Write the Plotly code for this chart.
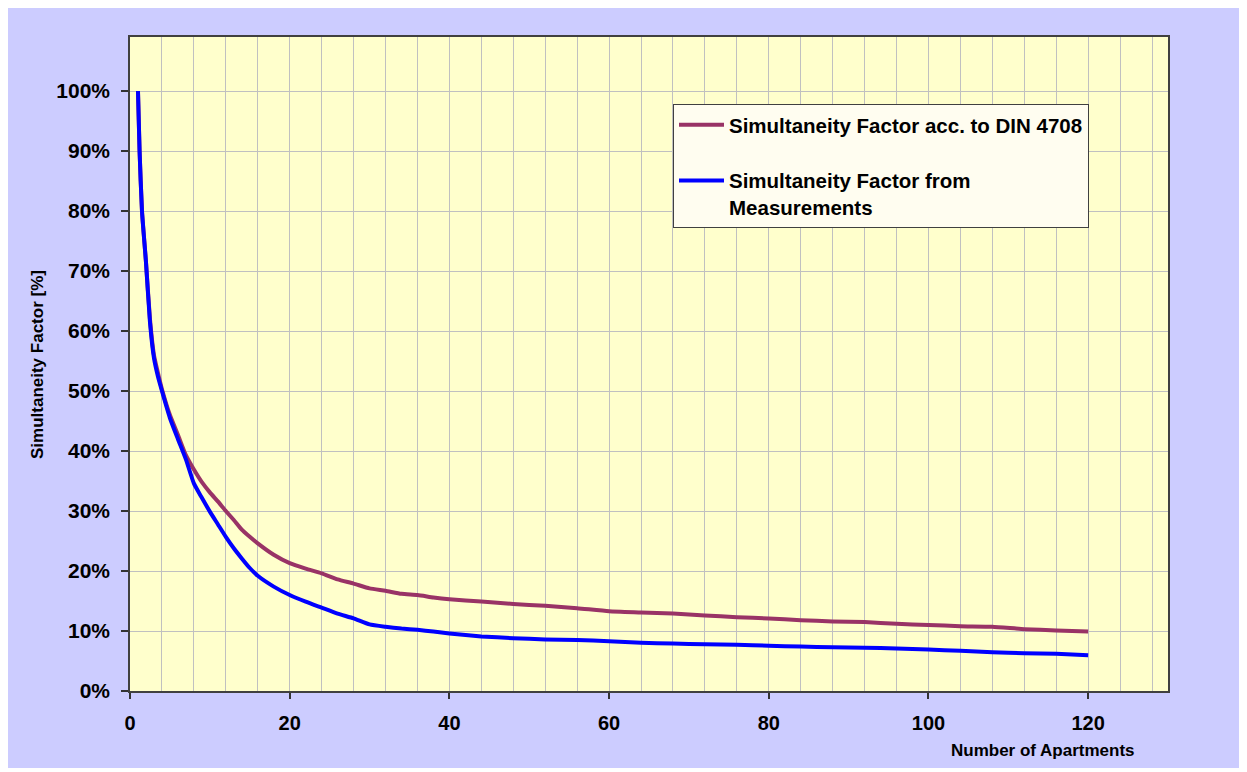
import plotly.graph_objects as go

# ---- data ----
apartments = [1, 1.2, 1.5, 2, 2.5, 3, 3.5, 4,
              5, 6, 7, 8, 9, 10, 11, 12, 13, 14, 15, 16,
              18, 20, 22, 24, 26, 28, 30, 32, 34, 36, 38, 40,
              44, 48, 52, 56, 60, 64, 68, 72, 76, 80, 84, 88, 92, 96, 100, 104, 108, 112, 116, 120]

din_4708 = [100, 90, 80, 71.5, 62, 56, 53, 50.3,
            46, 42.7, 39.3, 36.9, 34.8, 33.1, 31.6, 30.0, 28.5, 26.9, 25.7, 24.6,
            22.7, 21.3, 20.4, 19.6, 18.6, 17.9, 17.1, 16.7, 16.2, 16.0, 15.6, 15.3,
            14.9, 14.5, 14.2, 13.8, 13.3, 13.1, 12.9, 12.6, 12.3, 12.1, 11.8, 11.6, 11.5, 11.2, 11.0, 10.8, 10.7, 10.3, 10.1, 9.9]

measured = [100, 90, 80, 71.5, 61.5, 55.5, 52.4, 50,
            45.5, 42, 38.6, 34.6, 32.2, 29.9, 27.8, 25.7, 23.8, 22.1, 20.5, 19.2,
            17.4, 16.0, 14.9, 13.9, 12.9, 12.1, 11.1, 10.7, 10.4, 10.2, 9.9, 9.6,
            9.1, 8.8, 8.6, 8.5, 8.3, 8.05, 7.9, 7.8, 7.7, 7.55, 7.4, 7.3, 7.2, 7.1, 6.9, 6.7, 6.45, 6.3, 6.2, 5.95]

series_names = ["Simultaneity Factor acc. to DIN 4708",
                "Simultaneity Factor from<br>Measurements"]
series_colors = ["#993366", "#0000FF"]

x_ticks = [0, 20, 40, 60, 80, 100, 120]
y_ticks = [0, 10, 20, 30, 40, 50, 60, 70, 80, 90, 100]

x_title = "Number of Apartments"
y_title = "Simultaneity Factor [%]"

# ---- figure ----
FONT = "Liberation Sans, Arial, sans-serif"
OFF = 8  # page body margin
W, H = 1233, 760
# plot area in window pixels: left 130, right 1168, top 37, bottom 691
ML = 130 - OFF
MT = 37 - OFF
MR = W - (1168 - OFF)
MB = H - (691 - OFF)
PW, PH = W - ML - MR, H - MT - MB


def px_x(px):
    return (px - OFF - ML) / PW


def px_y(py):
    return (H - MB - (py - OFF)) / PH


fig = go.Figure()
for name, vals, col, grp in zip(series_names, [din_4708, measured], series_colors, ["a", "b"]):
    fig.add_trace(go.Scatter(
        x=apartments, y=vals, mode="lines", name=name, legendgroup=grp,
        line=dict(color=col, width=4, shape="spline", smoothing=0.5),
    ))

fig.update_layout(
    width=W, height=H,
    margin=dict(l=ML, r=MR, t=MT, b=MB, pad=0),
    paper_bgcolor="#CCCCFF",
    plot_bgcolor="#FFFFCC",
    font=dict(family=FONT, color="black"),
    showlegend=True,
    legend=dict(
        x=px_x(673), y=px_y(104), xanchor="left", yanchor="top",
        bgcolor="#FFFDF0", bordercolor="#404040", borderwidth=1,
        font=dict(family=FONT, size=20.5, color="black", weight="bold"),
        traceorder="grouped", tracegroupgap=26, valign="top", itemwidth=45,
    ),
    xaxis=dict(
        range=[0, 130], tickvals=x_ticks, ticktext=[str(v) for v in x_ticks],
        showgrid=True, gridcolor="#C0C0C0", gridwidth=1,
        minor=dict(dtick=4, tick0=0, showgrid=True, gridcolor="#C0C0C0", gridwidth=1, ticks=""),
        ticks="outside", ticklen=6, tickcolor="#333333", tickwidth=1.5,
        showline=True, linecolor="#404040", linewidth=1.5, mirror=True,
        zeroline=False, ticklabelstandoff=7,
        tickfont=dict(family=FONT, size=20, color="black", weight="bold"),
    ),
    yaxis=dict(
        range=[0, 109], tickvals=y_ticks, ticktext=[f"{v}%" for v in y_ticks],
        showgrid=True, gridcolor="#C0C0C0", gridwidth=1,
        ticks="outside", ticklen=7, tickcolor="#333333", tickwidth=1.5,
        showline=True, linecolor="#404040", linewidth=1.5, mirror=True,
        zeroline=False, ticklabelstandoff=7,
        tickfont=dict(family=FONT, size=21, color="black", weight="bold"),
    ),
    annotations=[
        dict(text=x_title, xref="paper", yref="paper", x=px_x(1043), y=px_y(751),
             xanchor="center", yanchor="middle", showarrow=False,
             font=dict(family=FONT, size=17, color="black", weight="bold")),
        dict(text=y_title, xref="paper", yref="paper", x=px_x(38), y=px_y(365),
             xanchor="center", yanchor="middle", showarrow=False, textangle=-90,
             font=dict(family=FONT, size=17, color="black", weight="bold")),
    ],
)

fig.write_html("out.html")
